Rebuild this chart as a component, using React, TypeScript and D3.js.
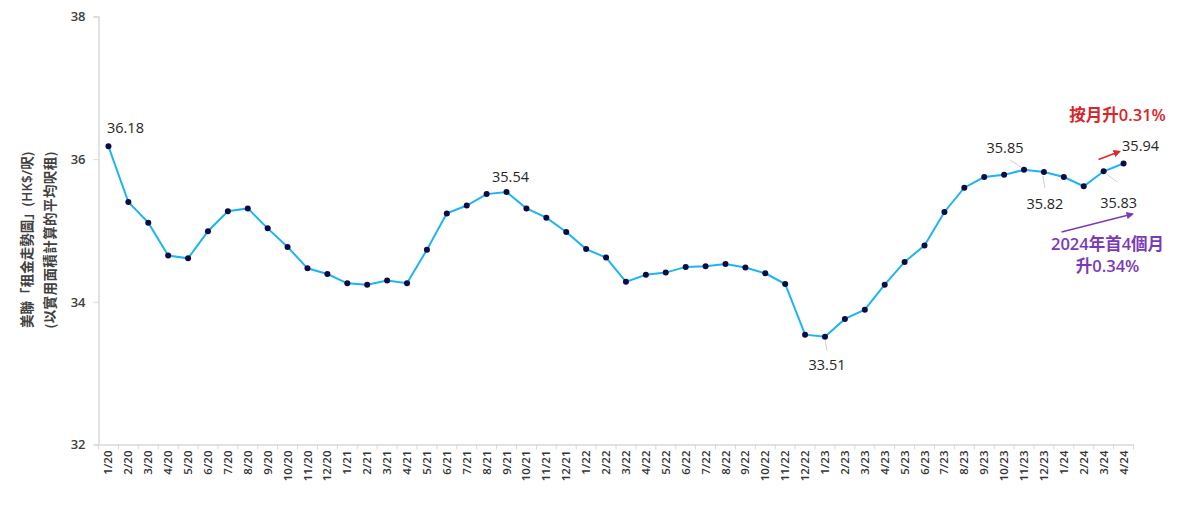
import * as d3 from "d3";
import { useEffect, useRef } from "react";

const months = [
  "1/20", "2/20", "3/20", "4/20", "5/20", "6/20", "7/20", "8/20", "9/20", "10/20", "11/20", "12/20",
  "1/21", "2/21", "3/21", "4/21", "5/21", "6/21", "7/21", "8/21", "9/21", "10/21", "11/21", "12/21",
  "1/22", "2/22", "3/22", "4/22", "5/22", "6/22", "7/22", "8/22", "9/22", "10/22", "11/22", "12/22",
  "1/23", "2/23", "3/23", "4/23", "5/23", "6/23", "7/23", "8/23", "9/23", "10/23", "11/23", "12/23",
  "1/24", "2/24", "3/24", "4/24",
];

const rents = [
  36.18, 35.40, 35.11, 34.65, 34.61, 34.99, 35.27, 35.31, 35.03, 34.77, 34.47, 34.39,
  34.26, 34.24, 34.30, 34.26, 34.73, 35.24, 35.35, 35.51, 35.54, 35.31, 35.18, 34.98,
  34.74, 34.62, 34.28, 34.38, 34.41, 34.49, 34.50, 34.53, 34.48, 34.40, 34.25, 33.54,
  33.51, 33.76, 33.89, 34.24, 34.56, 34.79, 35.26, 35.60, 35.75, 35.78, 35.85, 35.82,
  35.75, 35.62, 35.83, 35.94,
];

const yTicks = [32, 34, 36, 38];

// months that carry a value label
const labelled = ["1/20", "9/21", "1/23", "11/23", "12/23", "3/24", "4/24"];

const yTitle = ["美聯「租金走勢圖」(HK$/呎)", "(以實用面積計算的平均呎租)"];
const monthNote = "按月升0.31%";
const yearNote = ["2024年首4個月", "升0.34%"];

const FONT = "'Open Sans', 'Noto Sans CJK TC', sans-serif";

function RentChart() {
  const ref = useRef<SVGSVGElement>(null);
  const width = 1200;
  const height = 515;

  useEffect(() => {
    const svg = d3.select(ref.current);
    svg.selectAll("*").remove();

    const x = d3.scaleBand<string>().domain(months).range([98.5, 1133.5]).padding(0);
    const y = d3.scaleLinear().domain([32, 38]).range([444.5, 16.5]);
    const cx = (m: string) => (x(m) as number) + x.bandwidth() / 2;

    const defs = svg.append("defs");
    [["redHead", "#e0262b"], ["purpleHead", "#7a3ab8"]].forEach(([id, c]) => {
      defs.append("marker")
        .attr("id", id)
        .attr("viewBox", "0 0 10 10")
        .attr("refX", 8).attr("refY", 5)
        .attr("markerWidth", 5).attr("markerHeight", 5)
        .attr("orient", "auto")
        .append("path")
        .attr("d", "M0,0 L10,5 L0,10 z")
        .attr("fill", c);
    });

    // y axis
    const yAxis = svg.append("g").attr("transform", "translate(98.5,0)")
      .call(d3.axisLeft(y).tickValues(yTicks).tickSize(5).tickPadding(8).tickFormat(d3.format("d")));
    yAxis.select(".domain").attr("stroke", "#d9d9d9").attr("stroke-width", 1.5);
    yAxis.selectAll(".tick line").attr("stroke", "#d9d9d9");
    yAxis.selectAll(".tick text")
      .attr("fill", "#404040").style("font-size", "13px").style("font-family", FONT).style("font-weight", 600);

    // x axis
    const xAxis = svg.append("g").attr("transform", `translate(0,${y(32)})`)
      .call(d3.axisBottom(x).tickSize(0).tickPadding(0));
    xAxis.select(".domain").attr("stroke", "#d9d9d9").attr("stroke-width", 1.5);
    xAxis.selectAll(".tick text")
      .attr("transform", "rotate(-90)")
      .attr("x", -6).attr("y", 0).attr("dy", "0.35em")
      .attr("text-anchor", "end")
      .attr("fill", "#333")
      .style("font-size", "11.5px").style("font-family", FONT).style("font-weight", 600);
    xAxis.selectAll(".bound")
      .data(months.concat("end"))
      .enter().append("line")
      .attr("x1", (_, i) => 98.5 + i * x.step()).attr("x2", (_, i) => 98.5 + i * x.step())
      .attr("y1", 0).attr("y2", 5)
      .attr("stroke", "#d9d9d9");

    // y title
    yTitle.forEach((t, i) => {
      svg.append("text")
        .attr("transform", `translate(${32 + i * 23},240) rotate(-90)`)
        .attr("text-anchor", "middle")
        .attr("fill", "#404040")
        .attr("textLength", 176).attr("lengthAdjust", "spacing")
        .style("font-size", "13.5px").style("font-family", FONT).style("font-weight", 600)
        .text(t);
    });

    // line + markers
    const line = d3.line<number>().x((_, i) => cx(months[i])).y((d) => y(d));
    svg.append("path").datum(rents).attr("d", line)
      .attr("fill", "none").attr("stroke", "#1db5ef").attr("stroke-width", 2);
    svg.selectAll(".pt").data(rents).enter().append("circle")
      .attr("cx", (_, i) => cx(months[i])).attr("cy", (d) => y(d)).attr("r", 3)
      .attr("fill", "#0b0b45");

    // value labels
    const place: Record<string, { dx: number; dy: number; lead?: [number, number, number, number] }> = {
      "1/20": { dx: 17, dy: -13 },
      "9/21": { dx: 4, dy: -10 },
      "1/23": { dx: 2, dy: 33, lead: [0, 3, 2, 14] },
      "11/23": { dx: -19, dy: -17, lead: [-14, -10, -2, -2] },
      "12/23": { dx: 1, dy: 37, lead: [-1, 4, 1, 16] },
      "3/24": { dx: 15, dy: 37, lead: [2, 2, 14, 11] },
      "4/24": { dx: 17, dy: -12 },
    };
    labelled.forEach((m) => {
      const i = months.indexOf(m);
      const px = cx(m), py = y(rents[i]);
      const p = place[m];
      if (p.lead) {
        svg.append("line")
          .attr("x1", px + p.lead[0]).attr("y1", py + p.lead[1])
          .attr("x2", px + p.lead[2]).attr("y2", py + p.lead[3])
          .attr("stroke", "#d0d0d0").attr("stroke-width", 1);
      }
      svg.append("text")
        .attr("x", px + p.dx).attr("y", py + p.dy)
        .attr("text-anchor", "middle")
        .attr("fill", "#262626")
        .style("font-size", "14.5px").style("font-family", FONT)
        .text(rents[i].toFixed(2));
    });

    // annotations
    const last = months[months.length - 1];
    const lx = cx(last), ly = y(rents[rents.length - 1]);
    svg.append("text")
      .attr("x", lx - 6).attr("y", 121)
      .attr("text-anchor", "middle").attr("fill", "#d7262b")
      .style("font-size", "16.5px").style("font-family", FONT).style("font-weight", 600)
      .text(monthNote);
    svg.append("line")
      .attr("x1", lx - 25).attr("y1", ly - 4).attr("x2", lx - 4).attr("y2", ly - 12)
      .attr("stroke", "#e0262b").attr("stroke-width", 1.5).attr("marker-end", "url(#redHead)");

    yearNote.forEach((t, i) => {
      svg.append("text")
        .attr("x", lx - 16).attr("y", 250 + i * 22)
        .attr("text-anchor", "middle").attr("fill", "#7a3ab8")
        .style("font-size", "16.5px").style("font-family", FONT).style("font-weight", 600)
        .text(t);
    });
    svg.append("line")
      .attr("x1", lx - 62).attr("y1", 232).attr("x2", lx + 9).attr("y2", 214)
      .attr("stroke", "#7a3ab8").attr("stroke-width", 1.5).attr("marker-end", "url(#purpleHead)");
  }, []);

  return <svg ref={ref} width={width} height={height} style={{ display: "block", position: "absolute", left: 0, top: 0 }} />;
}

export default function App() {
  return <RentChart />;
}
